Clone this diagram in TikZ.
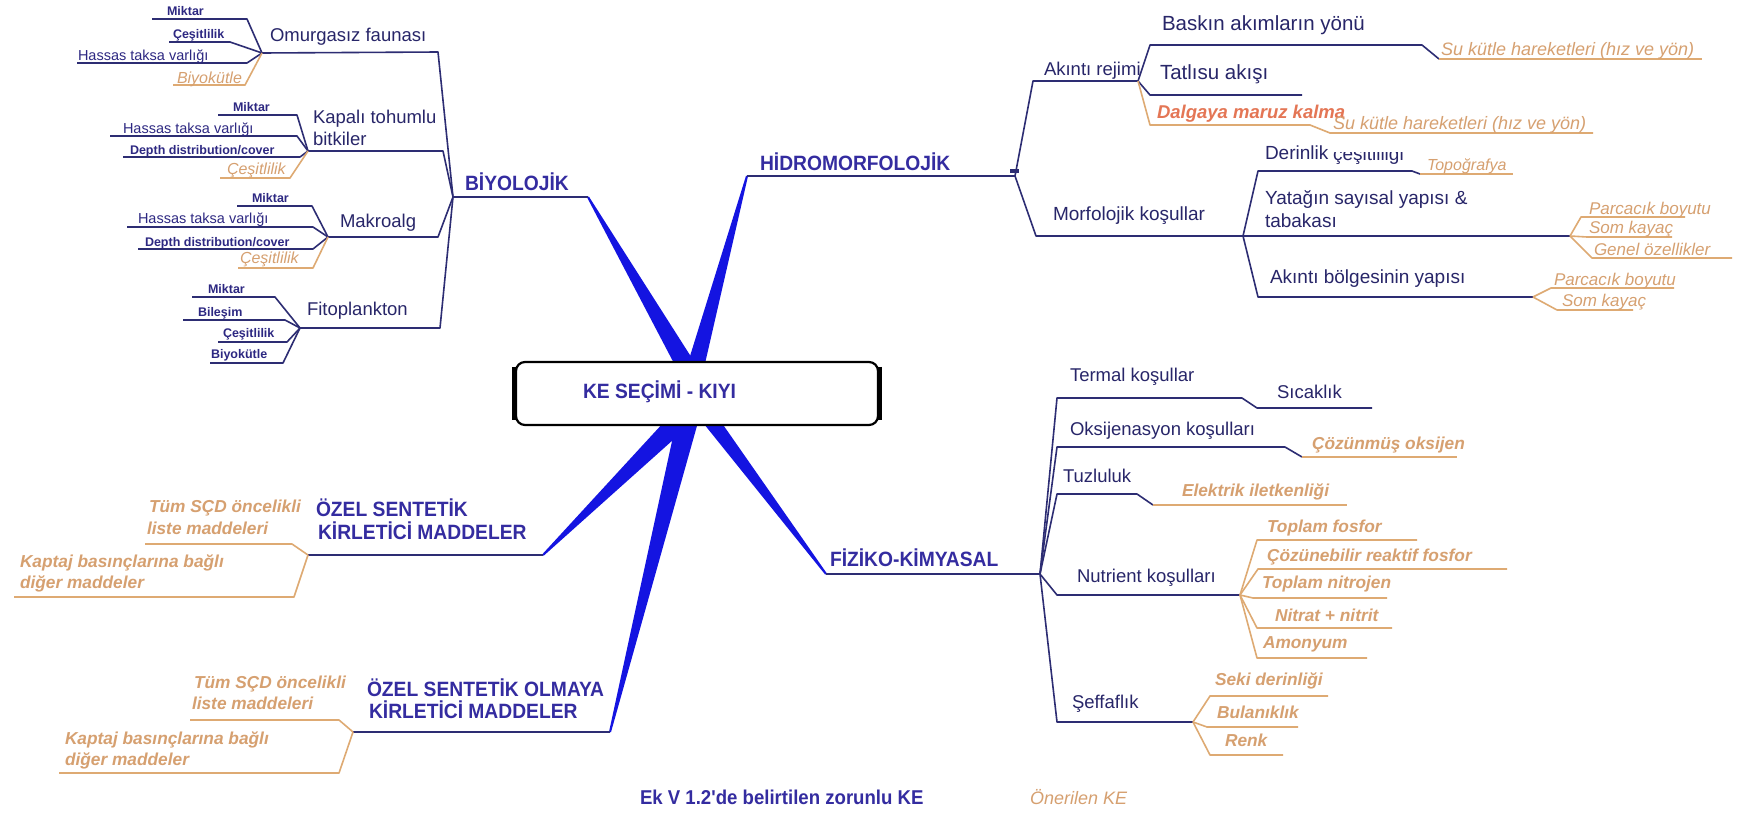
\documentclass[tikz,border=0pt]{standalone}
\usepackage{fontspec}
\setmainfont{Liberation Sans}
\newfontfamily\hfont[FakeStretch=0.93]{Liberation Sans}
\usetikzlibrary{calc}

\definecolor{headc}{RGB}{52,44,160}
\definecolor{navy}{RGB}{40,38,105}
\definecolor{smallc}{RGB}{45,40,130}
\definecolor{linec}{RGB}{45,45,115}
\definecolor{wedgec}{RGB}{20,20,225}
\definecolor{tanc}{RGB}{214,160,112}
\definecolor{orl}{RGB}{222,170,115}
\definecolor{salmon}{RGB}{228,118,85}

% tapered spoke from apex #1 to base #2, half widths #3 (apex) and #4 (base)
\newcommand\spoke[4]{%
  \fill[wedgec] ($(#1)!#3!90:(#2)$) -- ($(#2)!#4!-90:(#1)$)
    -- ($(#2)!#4!90:(#1)$) -- ($(#1)!#3!-90:(#2)$) -- cycle;}
% leaf branch: far end #4, near end #5, joined to junction #2
\newcommand\leaf[5]{%
  \coordinate (#1-f) at #4; \coordinate (#1-n) at #5;
  \draw[#3] (#1-f) -- (#1-n) -- (#2);}

\tikzset{
  T/.style={anchor=base west, inner sep=0pt, outer sep=0pt},
  head/.style={T, text=headc, font=\hfont\bfseries\fontsize{20.7}{22}\selectfont},
  lab/.style={T, text=navy, font=\fontsize{18.5}{20}\selectfont},
  labH/.style={T, text=navy, font=\fontsize{19}{21}\selectfont},
  labL/.style={T, text=navy, font=\fontsize{20.5}{22}\selectfont},
  mini/.style={T, text=smallc, font=\bfseries\fontsize{12.5}{14}\selectfont},
  hassas/.style={T, text=smallc, font=\fontsize{14.5}{16}\selectfont},
  oit/.style={T, text=tanc, font=\itshape\fontsize{16}{18}\selectfont},
  oitm/.style={T, text=tanc, font=\itshape\fontsize{17}{19}\selectfont},
  oitl/.style={T, text=tanc, font=\itshape\fontsize{18}{20}\selectfont},
  obf/.style={T, text=tanc, font=\bfseries\itshape\fontsize{17.3}{19}\selectfont},
  nl/.style={draw=linec, line width=1.6pt, line join=round},
  ol/.style={draw=orl, line width=1.6pt, line join=round},
}

\begin{document}
\begin{tikzpicture}[x=1pt,y=-1pt]
\useasboundingbox (0,0) rectangle (1739,814);
\fill[white] (0,0) rectangle (1739,814);

% ---------- spokes from the centre ----------
\coordinate (Bio1) at (588,197);
\coordinate (Hid0) at (747,176);
\coordinate (Oz1a) at (543,555);
\coordinate (Oz2a) at (610,732);
\coordinate (Fk0)  at (826,574);
\coordinate (sBio) at (694,380);
\coordinate (sHid) at (692,380);
\coordinate (sOz1) at (690,410);
\coordinate (sOz2) at (690,410);
\coordinate (sFk)  at (703,410);
\spoke{Bio1}{sBio}{1pt}{10pt}
\spoke{Hid0}{sHid}{1pt}{9pt}
\spoke{Oz1a}{sOz1}{1pt}{11pt}
\spoke{Oz2a}{sOz2}{1pt}{11pt}
\spoke{Fk0}{sFk}{1pt}{8pt}

% ---------- central box ----------
\node[draw=black, line width=2.2pt, rounded corners=9pt, fill=white,
      minimum width=362pt, minimum height=63pt, inner sep=0pt] (box) at (697,393.5) {};
\draw[line width=5pt] ([yshift=-6pt]box.north west) -- ([yshift=6pt]box.south west);
\draw[line width=5pt] ([yshift=-6pt]box.north east) -- ([yshift=6pt]box.south east);
\node[head] (ke) at (583,398) {KE SEÇİMİ - KIYI};

% ---------- BİYOLOJİK ----------
\coordinate (Jbio) at (453,197);
\draw[nl] (Jbio) -- (Bio1);
\node[head] (bio) at (465,190) {BİYOLOJİK};

% Omurgasız faunası
\coordinate (Jom) at (262,53);
\coordinate (Om1) at (438,52);
\draw[nl] (Jom) -- (Om1) -- (Jbio);
\node[lab] (om) at (270,41) {Omurgasız faunası};
\leaf{om1}{Jom}{nl}{(152,19)}{(247,19)}
\leaf{om2}{Jom}{nl}{(169,42)}{(230,42)}
\leaf{om3}{Jom}{nl}{(77,63)}{(247,63)}
\leaf{om4}{Jom}{ol}{(173,85)}{(245,85)}
\node[mini] (om1t) at (167,15) {Miktar};
\node[mini] (om2t) at (173,38) {Çeşitlilik};
\node[hassas] (om3t) at (78,60) {Hassas taksa varlığı};
\node[oit] (om4t) at (177,83) {Biyokütle};

% Kapalı tohumlu bitkiler
\coordinate (Jka) at (308,151);
\coordinate (Ka1) at (443,151);
\draw[nl] (Jka) -- (Ka1) -- (Jbio);
\node[lab] (ka) at (313,123) {Kapalı tohumlu};
\node[lab] (kab) at (313,145) {bitkiler};
\leaf{ka1}{Jka}{nl}{(218,115)}{(297,115)}
\leaf{ka2}{Jka}{nl}{(110,136)}{(297,136)}
\leaf{ka3}{Jka}{nl}{(123,157)}{(300,157)}
\leaf{ka4}{Jka}{ol}{(220,178)}{(290,178)}
\node[mini] (ka1t) at (233,111) {Miktar};
\node[hassas] (ka2t) at (123,133) {Hassas taksa varlığı};
\node[mini] (ka3t) at (130,154) {Depth distribution/cover};
\node[oit] (ka4t) at (227,174) {Çeşitlilik};

% Makroalg
\coordinate (Jma) at (328,237);
\coordinate (Ma1) at (438,237);
\draw[nl] (Jma) -- (Ma1) -- (Jbio);
\node[lab] (ma) at (340,227) {Makroalg};
\leaf{ma1}{Jma}{nl}{(237,206)}{(312,206)}
\leaf{ma2}{Jma}{nl}{(127,227)}{(313,227)}
\leaf{ma3}{Jma}{nl}{(138,249)}{(313,249)}
\leaf{ma4}{Jma}{ol}{(238,268)}{(313,268)}
\node[mini] (ma1t) at (252,202) {Miktar};
\node[hassas] (ma2t) at (138,223) {Hassas taksa varlığı};
\node[mini] (ma3t) at (145,246) {Depth distribution/cover};
\node[oit] (ma4t) at (240,263) {Çeşitlilik};

% Fitoplankton
\coordinate (Jfi) at (300,328);
\coordinate (Fi1) at (440,328);
\draw[nl] (Jfi) -- (Fi1) -- (Jbio);
\node[lab] (fi) at (307,315) {Fitoplankton};
\leaf{fi1}{Jfi}{nl}{(192,297)}{(275,297)}
\leaf{fi2}{Jfi}{nl}{(183,320)}{(285,320)}
\leaf{fi3}{Jfi}{nl}{(218,342)}{(287,342)}
\leaf{fi4}{Jfi}{nl}{(210,363)}{(283,363)}
\node[mini] (fi1t) at (208,293) {Miktar};
\node[mini] (fi2t) at (198,316) {Bileşim};
\node[mini] (fi3t) at (223,337) {Çeşitlilik};
\node[mini] (fi4t) at (211,358) {Biyokütle};

% ---------- HİDROMORFOLOJİK ----------
\coordinate (Jhid) at (1015,176);
\draw[nl] (Hid0) -- (Jhid);
\fill[linec] (1010,169) rectangle (1019,173);
\node[head] (hid) at (760,170) {HİDROMORFOLOJİK};

% Akıntı rejimi
\coordinate (Ak0) at (1033,81);
\coordinate (Jak) at (1138,81);
\draw[nl] (Jhid) -- (Ak0) -- (Jak);
\node[lab] (ak) at (1044,75) {Akıntı rejimi};
\coordinate (bk1) at (1150,45);
\coordinate (bk2) at (1422,45);
\coordinate (bk3) at (1439,59);
\coordinate (bk4) at (1702,59);
\draw[nl] (Jak) -- (bk1) -- (bk2) -- (bk3);
\draw[ol] (bk3) -- (bk4);
\node[labL] (bk) at (1162,30) {Baskın akımların yönü};
\node[oitl] (bks) at (1441,55) {Su kütle hareketleri (hız ve yön)};
\coordinate (ts1) at (1150,95);
\coordinate (ts2) at (1302,95);
\draw[nl] (Jak) -- (ts1) -- (ts2);
\node[labL] (ts) at (1160,79) {Tatlısu akışı};
\coordinate (dg1) at (1150,125);
\coordinate (dg2) at (1310,125);
\coordinate (dg3) at (1330,133);
\coordinate (dg4) at (1593,133);
\draw[ol] (Jak) -- (dg1) -- (dg2) -- (dg3) -- (dg4);
\node[T, text=salmon, font=\bfseries\itshape\fontsize{18.5}{20}\selectfont] (dg) at (1157,118) {Dalgaya maruz kalma};
\node[oitl] (dgs) at (1333,129) {Su kütle hareketleri (hız ve yön)};

% Morfolojik koşullar
\coordinate (mo0) at (1036,236);
\coordinate (Jmor) at (1243,236);
\draw[nl] (Jhid) -- (mo0) -- (Jmor);
\node[labH] (mo) at (1053,220) {Morfolojik koşullar};
\coordinate (de1) at (1258,171);
\coordinate (de2) at (1412,171);
\coordinate (de3) at (1420,174);
\coordinate (de4) at (1513,174);
\draw[nl] (Jmor) -- (de1) -- (de2) -- (de3);
\draw[ol] (de3) -- (de4);
\node[labH] (de) at (1265,159) {Derinlik};
\begin{scope}
  \clip (1325,152) rectangle (1425,167);
  \node[labH] (deb) at (1333,160) {çeşitliliği};
\end{scope}
\node[oit] (topo) at (1427,170) {Topoğrafya};
\coordinate (Jyat) at (1570,236);
\draw[nl] (Jmor) -- (Jyat);
\node[labH] (ya) at (1265,204) {Yatağın sayısal yapısı \&};
\node[labH] (yab) at (1265,227) {tabakası};
\leaf{y1}{Jyat}{ol}{(1685,217)}{(1581,217)}
\leaf{y2}{Jyat}{ol}{(1672,237)}{(1587,237)}
\leaf{y3}{Jyat}{ol}{(1732,258)}{(1592,258)}
\node[oitm] (y1t) at (1589,214) {Parcacık boyutu};
\node[oitm] (y2t) at (1589,233) {Som kayaç};
\node[oitm] (y3t) at (1594,255) {Genel özellikler};
\coordinate (ab1) at (1258,297);
\coordinate (Jakb) at (1533,297);
\draw[nl] (Jmor) -- (ab1) -- (Jakb);
\node[labH] (ab) at (1270,283) {Akıntı bölgesinin yapısı};
\leaf{a1}{Jakb}{ol}{(1674,288)}{(1551,288)}
\leaf{a2}{Jakb}{ol}{(1633,310)}{(1557,310)}
\node[oitm] (a1t) at (1554,285) {Parcacık boyutu};
\node[oitm] (a2t) at (1562,306) {Som kayaç};

% ---------- FİZİKO-KİMYASAL ----------
\coordinate (Jfk) at (1040,574);
\draw[nl] (Fk0) -- (Jfk);
\node[head] (fk) at (830,566) {FİZİKO-KİMYASAL};

\coordinate (te1) at (1057,398);
\coordinate (te2) at (1242,398);
\coordinate (te3) at (1257,408);
\coordinate (te4) at (1372,408);
\draw[nl] (Jfk) -- (te1) -- (te2) -- (te3) -- (te4);
\node[lab] (te) at (1070,381) {Termal koşullar};
\node[lab] (sic) at (1277,398) {Sıcaklık};

\coordinate (ok1) at (1057,447);
\coordinate (ok2) at (1285,447);
\coordinate (ok3) at (1302,457);
\coordinate (ok4) at (1457,457);
\draw[nl] (Jfk) -- (ok1) -- (ok2) -- (ok3);
\draw[ol] (ok3) -- (ok4);
\node[lab] (ok) at (1070,435) {Oksijenasyon koşulları};
\node[obf] (okc) at (1312,449) {Çözünmüş oksijen};

\coordinate (tz1) at (1057,494);
\coordinate (tz2) at (1137,494);
\coordinate (tz3) at (1153,505);
\coordinate (tz4) at (1347,505);
\draw[nl] (Jfk) -- (tz1) -- (tz2) -- (tz3);
\draw[ol] (tz3) -- (tz4);
\node[lab] (tz) at (1063,482) {Tuzluluk};
\node[obf] (tze) at (1182,496) {Elektrik iletkenliği};

\coordinate (nu1) at (1057,595);
\coordinate (Jnut) at (1240,595);
\draw[nl] (Jfk) -- (nu1) -- (Jnut);
\node[lab] (nu) at (1077,582) {Nutrient koşulları};
\leaf{n1}{Jnut}{ol}{(1417,540)}{(1257,540)}
\leaf{n2}{Jnut}{ol}{(1507,569)}{(1258,569)}
\leaf{n3}{Jnut}{ol}{(1387,598)}{(1253,598)}
\leaf{n4}{Jnut}{ol}{(1392,628)}{(1257,628)}
\leaf{n5}{Jnut}{ol}{(1367,658)}{(1257,658)}
\node[obf] (n1t) at (1267,532) {Toplam fosfor};
\node[obf] (n2t) at (1267,561) {Çözünebilir reaktif fosfor};
\node[obf] (n3t) at (1262,588) {Toplam nitrojen};
\node[obf] (n4t) at (1275,621) {Nitrat + nitrit};
\node[obf] (n5t) at (1263,648) {Amonyum};

\coordinate (se1) at (1057,722);
\coordinate (Jsef) at (1193,722);
\draw[nl] (Jfk) -- (se1) -- (Jsef);
\node[lab] (se) at (1072,708) {Şeffaflık};
\leaf{s1}{Jsef}{ol}{(1328,696)}{(1210,696)}
\leaf{s2}{Jsef}{ol}{(1298,727)}{(1207,727)}
\leaf{s3}{Jsef}{ol}{(1283,755)}{(1210,755)}
\node[obf] (s1t) at (1215,685) {Seki derinliği};
\node[obf] (s2t) at (1217,718) {Bulanıklık};
\node[obf] (s3t) at (1225,746) {Renk};

% ---------- ÖZEL SENTETİK KİRLETİCİ MADDELER ----------
\coordinate (Joz1) at (308,555);
\draw[nl] (Joz1) -- (Oz1a);
\node[head] (oz1) at (316,516) {ÖZEL SENTETİK};
\node[head] (oz1b) at (318,539) {KİRLETİCİ MADDELER};
\leaf{p1}{Joz1}{ol}{(145,544)}{(292,544)}
\leaf{p2}{Joz1}{ol}{(14,597)}{(294,597)}
\node[obf] (p1t) at (149,512) {Tüm SÇD öncelikli};
\node[obf] (p1b) at (147,534) {liste maddeleri};
\node[obf] (p2t) at (20,567) {Kaptaj basınçlarına bağlı};
\node[obf] (p2b) at (20,588) {diğer maddeler};

% ---------- ÖZEL SENTETİK OLMAYA KİRLETİCİ MADDELER ----------
\coordinate (Joz2) at (353,732);
\draw[nl] (Joz2) -- (Oz2a);
\node[head] (oz2) at (367,696) {ÖZEL SENTETİK OLMAYA};
\node[head] (oz2b) at (369,718) {KİRLETİCİ MADDELER};
\leaf{q1}{Joz2}{ol}{(190,720)}{(339,720)}
\leaf{q2}{Joz2}{ol}{(59,773)}{(339,773)}
\node[obf] (q1t) at (194,688) {Tüm SÇD öncelikli};
\node[obf] (q1b) at (192,709) {liste maddeleri};
\node[obf] (q2t) at (65,744) {Kaptaj basınçlarına bağlı};
\node[obf] (q2b) at (65,765) {diğer maddeler};

% ---------- legend ----------
\node[T, text=headc, font=\hfont\bfseries\fontsize{20}{22}\selectfont] (lg1) at (640,804) {Ek V 1.2'de belirtilen zorunlu KE};
\node[T, text=tanc, font=\itshape\fontsize{18}{20}\selectfont] (lg2) at (1030,804) {Önerilen KE};
\end{tikzpicture}
\end{document}
